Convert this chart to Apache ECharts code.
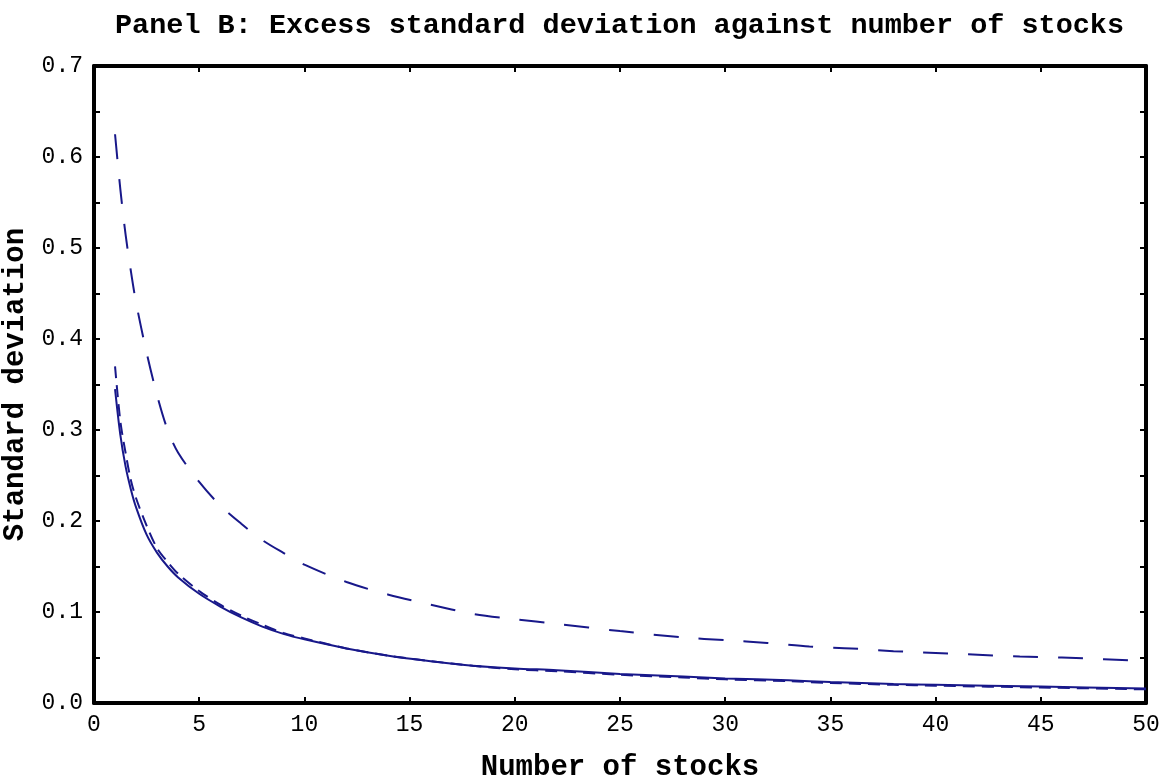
<!DOCTYPE html>
<html>
<head>
<meta charset="utf-8">
<title>Panel B</title>
<script src="https://cdn.jsdelivr.net/npm/echarts@6/dist/echarts.min.js"></script>
<style>
html,body{margin:0;padding:0;background:#fff}
#chart{width:1163px;height:781px}
</style>
</head>
<body>
<div id="chart"></div>
<script>
// upper curve (long dashes)
var stocksUpper=[1,1.25,1.5,1.75,2,2.5,3,3.5,4,5,6,7,8,9,10,12,14,16,18,20,22,25,28,30,32,34,36,38,40,42,44,46,48,50];
var sdUpper=[0.625,0.565,0.515,0.475,0.44,0.385,0.338,0.30,0.275,0.243,0.217,0.197,0.179,0.165,0.152,0.133,0.119,0.108,0.098,0.092,0.087,0.079,0.072,0.069,0.066,0.062,0.060,0.057,0.055,0.053,0.051,0.050,0.048,0.046];
// lower curves (solid and short dashes)
var stocksLower=[1,1.25,1.5,1.75,2,2.5,3,3.5,4,5,6,7,8,9,10,12,14,16,18,20,22,25,28,30,33,35,38,40,45,50];
var sdSolid=[0.345,0.295,0.26,0.235,0.215,0.185,0.165,0.15,0.138,0.12,0.106,0.094,0.084,0.076,0.070,0.060,0.052,0.046,0.041,0.038,0.036,0.032,0.029,0.027,0.025,0.023,0.021,0.020,0.018,0.016];
var sdDashed=[0.37,0.31,0.275,0.245,0.225,0.195,0.17,0.155,0.142,0.123,0.108,0.096,0.086,0.077,0.071,0.060,0.052,0.046,0.041,0.037,0.035,0.031,0.028,0.026,0.024,0.022,0.020,0.019,0.017,0.015];

function pairs(xs,ys){
    var out=[];
    for(var i=0;i<xs.length;i++){out.push([xs[i],ys[i]]);}
    return out;
}

var lineColor='#18188a';
var mono='"Liberation Mono","DejaVu Sans Mono",monospace';
var frame={show:true,onZero:false,lineStyle:{color:'#000',width:4}};
var tick={show:true,inside:true,length:6,lineStyle:{color:'#000',width:2}};
var minor={show:true,splitNumber:2,length:6,lineStyle:{color:'#000',width:2}};

var chart=echarts.init(document.getElementById('chart'));
var option={
    animation:false,
    backgroundColor:'#fff',
    title:{
        text:'Panel B: Excess standard deviation against number of stocks',
        left:110,
        top:6,
        textStyle:{fontFamily:mono,fontWeight:'bold',fontSize:28.5,color:'#000'}
    },
    grid:{left:94,right:17,top:66,bottom:78,containLabel:false,outerBoundsMode:'none'},
    xAxis:[{
        type:'value',
        position:'bottom',
        min:0,max:50,interval:5,
        name:'Number of stocks',
        nameLocation:'middle',
        nameGap:50,
        nameTextStyle:{fontFamily:mono,fontWeight:'bold',fontSize:29,color:'#000'},
        axisLine:frame,
        axisTick:tick,
        axisLabel:{fontFamily:mono,fontSize:23,color:'#000',margin:10},
        splitLine:{show:false}
    },{
        type:'value',
        position:'top',
        min:0,max:50,interval:5,
        axisLine:frame,
        axisTick:tick,
        axisLabel:{show:false},
        splitLine:{show:false}
    }],
    yAxis:[{
        type:'value',
        position:'left',
        min:0,max:0.7,interval:0.1,
        name:'Standard deviation',
        nameLocation:'middle',
        nameGap:58,
        nameTextStyle:{fontFamily:mono,fontWeight:'bold',fontSize:29,color:'#000'},
        axisLine:frame,
        axisTick:tick,
        minorTick:minor,
        axisLabel:{fontFamily:mono,fontSize:23,color:'#000',margin:11,
            formatter:function(v){return v.toFixed(1);}},
        splitLine:{show:false}
    },{
        type:'value',
        position:'right',
        min:0,max:0.7,interval:0.1,
        axisLine:frame,
        axisTick:tick,
        minorTick:minor,
        axisLabel:{show:false},
        splitLine:{show:false}
    }],
    series:[{
        type:'line',
        name:'upper',
        data:pairs(stocksUpper,sdUpper),
        symbol:'none',
        smooth:0.3,
        lineStyle:{color:lineColor,width:2,type:[25,20]}
    },{
        type:'line',
        name:'solid',
        data:pairs(stocksLower,sdSolid),
        symbol:'none',
        smooth:0.3,
        lineStyle:{color:lineColor,width:2}
    },{
        type:'line',
        name:'dashed',
        data:pairs(stocksLower,sdDashed),
        symbol:'none',
        smooth:0.3,
        lineStyle:{color:lineColor,width:2,type:[12,7]}
    }]
};
chart.setOption(option);
</script>
</body>
</html>
